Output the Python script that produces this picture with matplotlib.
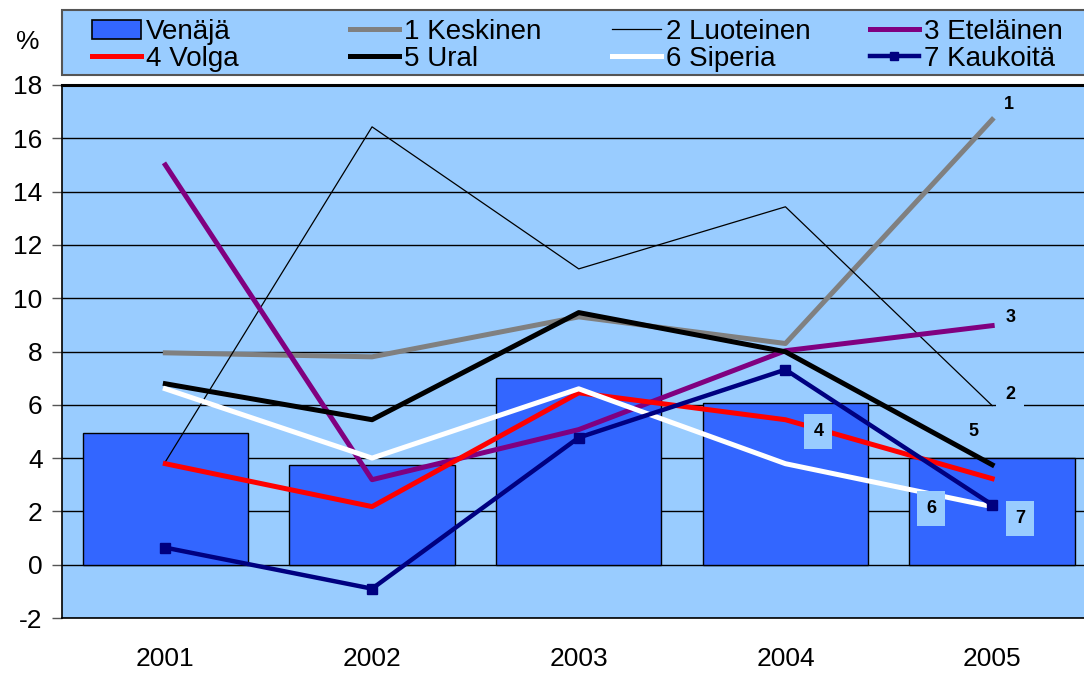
import matplotlib
matplotlib.use('Agg')
import matplotlib.pyplot as plt
from matplotlib.patches import Patch, Rectangle
from matplotlib.lines import Line2D

years = ['2001', '2002', '2003', '2004', '2005']
venaja = [4.95, 3.75, 7.0, 6.08, 4.0]
keskinen = [7.95, 7.8, 9.3, 8.3, 16.7]
luoteinen = [3.86, 16.43, 11.1, 13.43, 5.97]
etelainen = [15.0, 3.19, 5.07, 8.03, 8.97]
volga = [3.79, 2.18, 6.45, 5.44, 3.23]
ural = [6.79, 5.44, 9.46, 7.99, 3.75]
siperia = [6.6, 4.0, 6.6, 3.79, 2.18]
kaukoita = [0.64, -0.9, 4.77, 7.32, 2.25]

BG = '#99CCFF'
plt.rcParams['font.family'] = ['Liberation Sans', 'DejaVu Sans']
plt.rcParams['axes.unicode_minus'] = False

W, H = 1084, 673
fig = plt.figure(figsize=(W / 100, H / 100), dpi=100)
ax = fig.add_axes([62 / W, 55 / H, 1033.5 / W, 533 / H])
ax.set_facecolor(BG)
x = list(range(len(years)))

ax.set_ylim(-2, 18)
ax.set_xlim(-0.5, len(years) - 0.5)
ax.set_yticks(range(-2, 19, 2))
ax.yaxis.grid(True, color='black', linewidth=1.0)
ax.set_axisbelow(True)

ax.bar(x, venaja, width=0.8, color='#3366FF', edgecolor='black', linewidth=1.0, zorder=2)

ax.plot(x, keskinen, color='#808080', lw=3.6, zorder=3)
ax.plot(x, luoteinen, color='black', lw=0.9, zorder=3)
ax.plot(x, etelainen, color='#800080', lw=3.6, zorder=3)
ax.plot(x, volga, color='#FF0000', lw=3.6, zorder=3)
ax.plot(x, ural, color='black', lw=3.6, zorder=3)
ax.plot(x, siperia, color='white', lw=3.6, zorder=3)
ax.plot(x, kaukoita, color='#000080', lw=3.2, marker='s', markersize=7, zorder=4)

# series numbers near the line ends
tags = [('1', 4, keskinen, (17, 15), False),
        ('3', 4, etelainen, (18, 8), False),
        ('2', 4, luoteinen, (18, 11), True),
        ('5', 4, ural, (-19, 33), False),
        ('4', 3, volga, (33, -12), True),
        ('6', 4, siperia, (-61, -2), True),
        ('7', 4, kaukoita, (28, -14), True)]
for txt, i, ser, off, boxed in tags:
    kw = {}
    if boxed:
        kw['bbox'] = dict(boxstyle='square,pad=0.5', fc=BG, ec='none')
    ax.annotate(txt, (x[i], ser[i]), xytext=off, textcoords='offset pixels',
                ha='center', va='center', fontsize=13, fontweight='bold', zorder=6, **kw)

ax.set_xticks(x)
ax.set_xticklabels(years)
ax.tick_params(axis='x', length=0, pad=21, labelsize=19)
ax.tick_params(axis='y', length=7, width=1, direction='out', labelsize=19, pad=7, color='#555555')
for s in ['left', 'bottom']:
    ax.spines[s].set_linewidth(1.2)
ax.spines['top'].set_linewidth(2.2)
ax.spines['right'].set_visible(False)

fig.text(28 / W, 1 - 42 / H, '%', fontsize=19, ha='center', va='center')

# legend box, four evenly spaced columns like the original
fig.patches.append(Rectangle((62 / W, 1 - 75 / H), 1.0, 65 / H, transform=fig.transFigure,
                             fc=BG, ec='#555555', lw=1.5, zorder=0))
columns = [
    ([Patch(fc='#3366FF', ec='black', lw=1.2), Line2D([], [], color='#FF0000', lw=3.6)],
     ['Venäjä', '4 Volga']),
    ([Line2D([], [], color='#808080', lw=3.6), Line2D([], [], color='black', lw=3.6)],
     ['1 Keskinen', '5 Ural']),
    ([Line2D([], [], color='black', lw=0.9), Line2D([], [], color='white', lw=3.6)],
     ['2 Luoteinen', '6 Siperia']),
    ([Line2D([], [], color='#800080', lw=3.6),
      Line2D([], [], color='#000080', lw=3.2, marker='s', markersize=6)],
     ['3 Eteläinen', '7 Kaukoitä']),
]
col_x = [92, 350, 612, 870]
for cx, (hs, ls) in zip(col_x, columns):
    leg = fig.legend(hs, ls, loc='upper left', bbox_to_anchor=(cx / W, 1 - 19 / H),
                     frameon=False, borderpad=0, borderaxespad=0, fontsize=20,
                     handlelength=1.75, handleheight=0.65, handletextpad=0.2,
                     labelspacing=0.02)

fig.savefig('out.png', dpi=100)
